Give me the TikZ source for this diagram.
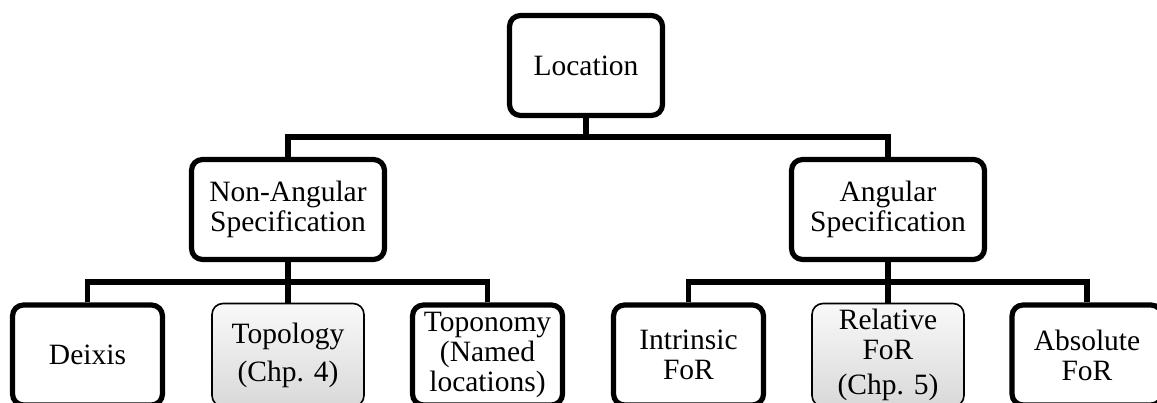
\documentclass[tikz,border=0pt]{standalone}
\usepackage{fontspec}
\setmainfont{Liberation Serif}
\begin{document}
\begin{tikzpicture}[x=1pt,y=-1pt,
  box/.style={draw=black, line width=5.2pt, rounded corners=11pt, fill=white,
    minimum height=100pt, inner sep=0pt, align=center,
    font=\fontsize{29.5}{30}\selectfont},
  shaded/.style={box, line width=1.6pt, top color=gray!5, bottom color=gray!30},
  conn/.style={line width=5.5pt}]
\useasboundingbox (0,0) rectangle (1157,403);
\clip (0,0) rectangle (1157,403);
\node[box, minimum width=153pt] (loc) at (586,65.5) {Location};
\node[box, minimum width=193pt] (na) at (288,209.5) {Non-Angular\\Specification};
\node[box, minimum width=193pt] (ang) at (888,209.5) {Angular\\Specification};
\node[box, minimum width=150pt] (dei) at (87.5,355) {Deixis};
\node[shaded, minimum width=152pt, minimum height=103pt] (top) at (288,355) {Topology\\[8pt](Chp. 4)};
\node[box, minimum width=150pt] (topo) at (487.5,355) {Toponomy\\(Named\\locations)};
\node[box, minimum width=150pt] (intr) at (688.5,355) {Intrinsic\\FoR};
\node[shaded, minimum width=152pt, minimum height=103pt] (rel) at (888,355) {Relative\\FoR\\[5pt](Chp. 5)};
\node[box, minimum width=150pt] (abs) at (1087,355) {Absolute\\FoR};
\coordinate (j1) at (586,137);
\coordinate (j2) at (288,282);
\coordinate (j3) at (888,282);
\draw[conn] (loc.south) -- (j1) -| (na.north);
\draw[conn] (j1) -| (ang.north);
\draw[conn] (na.south) -- (j2) -| (dei.north);
\draw[conn] (j2) -| (topo.north);
\draw[conn] (j2) -- (top.north);
\draw[conn] (ang.south) -- (j3) -| (intr.north);
\draw[conn] (j3) -| (abs.north);
\draw[conn] (j3) -- (rel.north);
\end{tikzpicture}
\end{document}
